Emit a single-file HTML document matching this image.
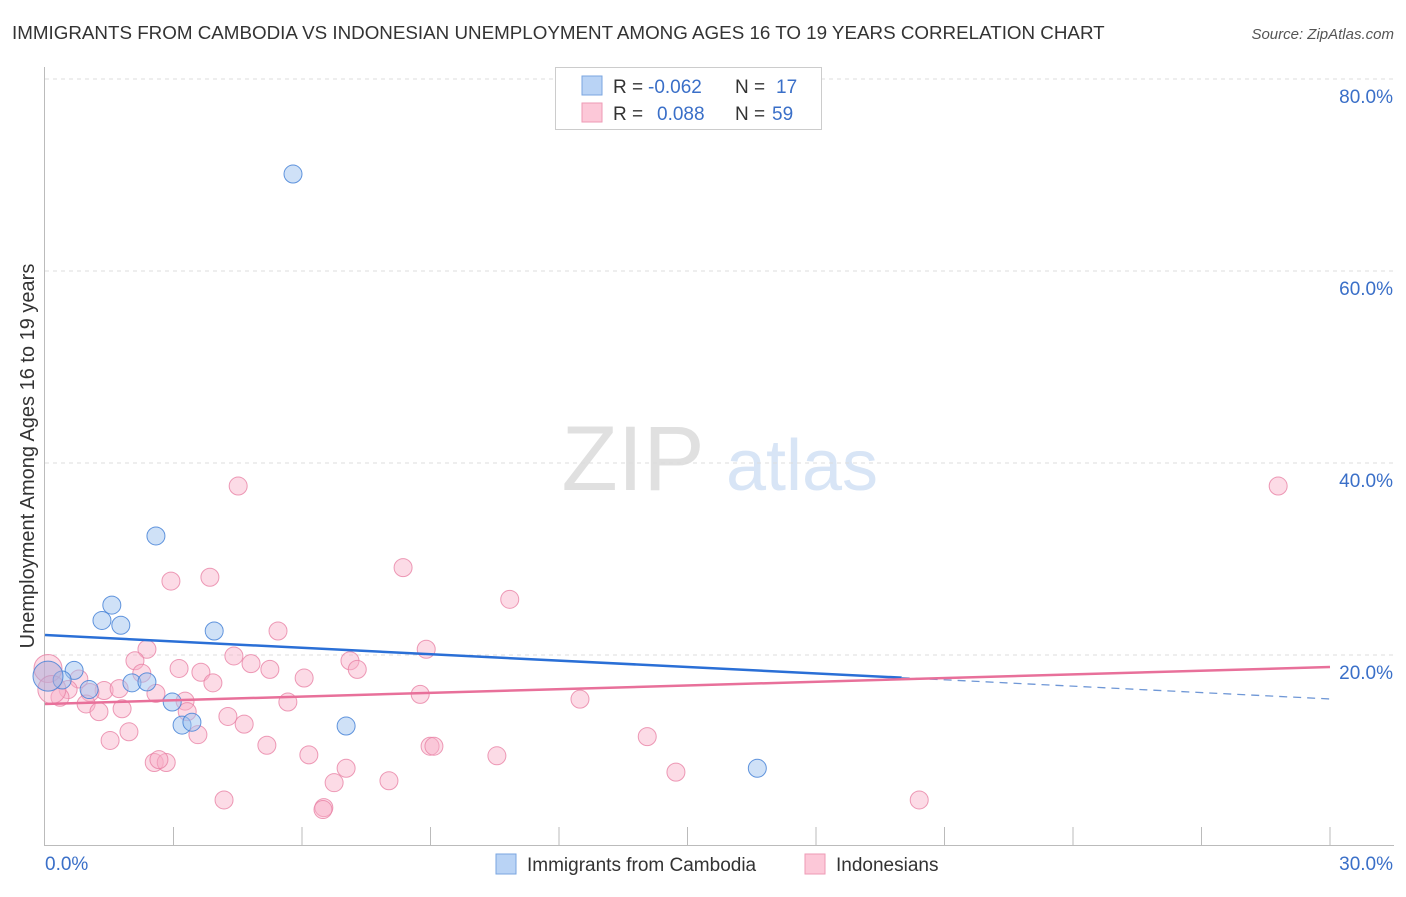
<!DOCTYPE html>
<html><head><meta charset="utf-8">
<style>
body{margin:0;background:#fff;font-family:"Liberation Sans",sans-serif;}
svg text{font-family:"Liberation Sans",sans-serif;}
</style></head>
<body>
<svg id="chart" width="1406" height="892" xmlns="http://www.w3.org/2000/svg">
<text x="12" y="39" font-size="18.8" fill="#333">IMMIGRANTS FROM CAMBODIA VS INDONESIAN UNEMPLOYMENT AMONG AGES 16 TO 19 YEARS CORRELATION CHART</text>
<text x="1394" y="39" font-size="15" fill="#555" font-style="italic" text-anchor="end">Source: ZipAtlas.com</text>
<g>
<text x="633" y="490" font-size="92" fill="#e0e0e0" font-family="Liberation Serif" text-anchor="middle">ZIP</text>
<text x="802" y="490" font-size="72" fill="#d8e5f6" text-anchor="middle">atlas</text>
</g>
<g id="grid"></g>
<g id="axes"></g>
<g id="marks"></g>
<text transform="translate(34,456) rotate(-90)" font-size="20" fill="#333" text-anchor="middle">Unemployment Among Ages 16 to 19 years</text>
<g>
<rect x="555.5" y="67.5" width="266" height="62" fill="#fff" stroke="#ccc"/>
<rect x="582" y="76" width="20" height="19" fill="#b9d3f5" stroke="#7aa6e0"/>
<rect x="582" y="103" width="20" height="19" fill="#fcc8d8" stroke="#ee9ab5"/>
<text x="613" y="93" font-size="19" fill="#333">R =</text>
<text x="648" y="93" font-size="19" fill="#3a6fc8">-0.062</text>
<text x="735" y="93" font-size="19" fill="#333">N =</text>
<text x="776" y="93" font-size="19" fill="#3a6fc8">17</text>
<text x="613" y="120" font-size="19" fill="#333">R =</text>
<text x="657" y="120" font-size="19" fill="#3a6fc8">0.088</text>
<text x="735" y="120" font-size="19" fill="#333">N =</text>
<text x="772" y="120" font-size="19" fill="#3a6fc8">59</text>
</g>
<g>
<rect x="496" y="854" width="20" height="20" fill="#b9d3f5" stroke="#7aa6e0"/>
<text x="527" y="871" font-size="19" fill="#333">Immigrants from Cambodia</text>
<rect x="805" y="854" width="20" height="20" fill="#fcc8d8" stroke="#ee9ab5"/>
<text x="836" y="871" font-size="19" fill="#333">Indonesians</text>
</g>
</svg>
<script>
const yTicks=[20,40,60,80];
const yTickLabels=["20.0%","40.0%","60.0%","80.0%"];
const xTickCount=10;
const xLabels=["0.0%","30.0%"];
const blueX=[5.79,2.59,1.56,1.33,1.77,3.95,0.68,0.40,0.07,1.03,2.03,2.38,2.97,3.20,3.43,7.03,16.63];
const blueY=[70.1,32.4,25.2,23.6,23.1,22.5,18.4,17.4,17.8,16.4,17.1,17.2,15.1,12.7,13.0,12.6,8.2];
const pinkX=[28.79,4.51,8.36,3.85,2.94,10.85,5.44,2.38,8.90,2.10,4.41,4.81,7.12,7.29,3.13,3.64,2.26,5.25,6.05,3.92,0.79,0.07,0.54,1.38,1.73,1.05,0.35,0.96,3.27,5.67,8.76,12.49,1.26,1.80,3.32,4.27,4.65,1.96,1.52,3.57,5.18,8.99,9.08,14.06,6.16,10.55,2.55,2.83,2.66,7.03,14.73,6.75,8.03,4.18,20.41,6.51,6.49,0.16,2.59];
const pinkY=[37.6,37.6,29.1,28.1,27.7,25.8,22.5,20.6,20.6,19.4,19.9,19.1,19.4,18.5,18.6,18.2,18.1,18.5,17.6,17.1,17.5,18.6,16.4,16.3,16.5,16.1,15.6,14.9,15.2,15.1,15.9,15.4,14.1,14.4,14.1,13.6,12.8,12.0,11.1,11.7,10.6,10.5,10.5,11.5,9.6,9.5,8.8,8.8,9.1,8.2,7.8,6.7,6.9,4.9,4.9,4.1,3.9,16.4,16.0];
const blueTrend=[22.08,15.42];
const pinkTrend=[14.9,18.75];
const blueSolidEnd=20;

const NS="http://www.w3.org/2000/svg";
const X0=45,X1=1330,Y0=847,PX20=192;
function sx(v){return X0+(v/30)*(X1-X0);}
function sy(v){return Y0-v/20*PX20;}
function mk(tag,attrs,parent){const e=document.createElementNS(NS,tag);for(const k in attrs)e.setAttribute(k,attrs[k]);document.getElementById(parent).appendChild(e);return e;}

yTicks.forEach((t,i)=>{
  const l=mk('line',{x1:45,x2:1394,y1:sy(t),y2:sy(t),stroke:'#ddd','stroke-dasharray':'4,4'},'grid');
  
  
  const tx=mk('text',{x:1393,y:sy(t)+24,'font-size':19,fill:'#3a6fc8','text-anchor':'end'},'axes');
  tx.textContent=yTickLabels[i];
  
  
});
const ax=mk('line',{x1:44.5,x2:44.5,y1:67,y2:846,stroke:'#bbb'},'axes');


const bx=mk('line',{x1:45,x2:1394,y1:845.5,y2:845.5,stroke:'#bbb'},'axes');


for(let i=1;i<=xTickCount;i++){
  const v=i*30/xTickCount;
  const t=mk('line',{x1:sx(v),x2:sx(v),y1:827,y2:846,stroke:'#bbb'},'axes');
  
  
}
const xl0=mk('text',{x:45,y:870,'font-size':19,fill:'#3a6fc8'},'axes');
xl0.textContent=xLabels[0];


const xl1=mk('text',{x:1393,y:870,'font-size':19,fill:'#3a6fc8','text-anchor':'end'},'axes');
xl1.textContent=xLabels[1];



pinkX.forEach((x,i)=>{
  const big=(x<0.2);
  const c=mk('circle',{cx:sx(x),cy:sy(pinkY[i]),r:big?14:9,fill:'rgba(249,176,200,0.45)',stroke:'rgba(232,130,165,0.8)','stroke-width':1},'marks');
  
  
});
blueX.forEach((x,i)=>{
  const big=(x<0.2);
  const c=mk('circle',{cx:sx(x),cy:sy(blueY[i]),r:big?15:9,fill:big?'rgba(170,170,215,0.5)':'rgba(160,195,240,0.5)',stroke:'rgba(70,130,215,0.85)','stroke-width':1},'marks');
  
  
});
function ty(tr,x){return tr[0]+(tr[1]-tr[0])*x/30;}
const bl=mk('line',{x1:sx(0),y1:sy(ty(blueTrend,0)),x2:sx(blueSolidEnd),y2:sy(ty(blueTrend,blueSolidEnd)),stroke:'#2a6fd6','stroke-width':2.5},'marks');


const bd=mk('line',{x1:sx(blueSolidEnd),y1:sy(ty(blueTrend,blueSolidEnd)),x2:sx(30),y2:sy(ty(blueTrend,30)),stroke:'#6f97d6','stroke-width':1.3,'stroke-dasharray':'8,6'},'marks');


const pl=mk('line',{x1:sx(0),y1:sy(ty(pinkTrend,0)),x2:sx(30),y2:sy(ty(pinkTrend,30)),stroke:'#e8709a','stroke-width':2.5},'marks');


</script>
</body></html>
